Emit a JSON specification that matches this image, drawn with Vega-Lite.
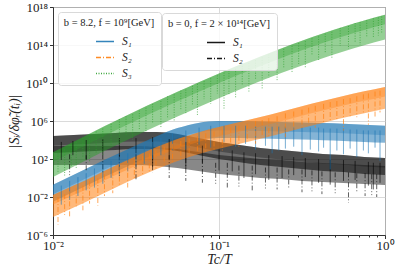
{
"$schema": "https://vega.github.io/schema/vega-lite/v6.json",
"width": 332, "height": 228,
"autosize": "none",
"padding": {"left": 53, "top": 7, "right": 14, "bottom": 38},
"background": "white",
"config": {
 "view": {"stroke": "#333", "strokeWidth": 1},
 "axis": {"domainColor": "#333", "tickColor": "#333", "labelColor": "#222", "titleColor": "#222", "gridColor": "#d0d0d0", "gridWidth": 0.8, "labelFont": "Liberation Serif", "titleFont": "Liberation Serif", "labelFontSize": 13, "titleFontSize": 14, "titleFontWeight": "normal", "titleFontStyle": "italic"},
 "legend": {"symbolType": "stroke", "symbolSize": 324, "symbolStrokeWidth": 1.3, "symbolOpacity": 0.9, "labelOffset": 7, "rowPadding": 0, "titleAnchor": "middle", "titleFont": "Liberation Serif", "titleFontSize": 10.5, "titleFontWeight": "normal", "titlePadding": 3, "labelFont": "Liberation Serif", "labelFontSize": 11.5, "labelFontStyle": "italic", "labelColor": "#222", "titleColor": "#222", "strokeColor": "#d9d9d9", "fillColor": "rgba(255,255,255,0.8)", "cornerRadius": 3, "padding": 6}
},
"datasets": {
 "gb": [
  {"x":0.01,"y":5.01e2,"y2":1.26,"m":50.1},
  {"x":0.01334,"y":6.61e3,"y2":1.66e1,"m":661},
  {"x":0.01778,"y":8.32e4,"y2":2.09e2,"m":8320},
  {"x":0.02371,"y":1e6,"y2":2.51e3,"m":1e5},
  {"x":0.03162,"y":1.12e7,"y2":2.82e4,"m":1.12e6},
  {"x":0.04217,"y":1.17e8,"y2":2.95e5,"m":1.17e7},
  {"x":0.05623,"y":1.17e9,"y2":2.95e6,"m":1.17e8},
  {"x":0.07499,"y":1.12e10,"y2":2.82e7,"m":1.12e9},
  {"x":0.1,"y":1e11,"y2":2.51e8,"m":1e10},
  {"x":0.1334,"y":8.32e11,"y2":2.09e9,"m":8.32e10},
  {"x":0.1778,"y":6.31e12,"y2":1.58e10,"m":6.31e11},
  {"x":0.2371,"y":4.37e13,"y2":1.1e11,"m":4.37e12},
  {"x":0.3162,"y":2.75e14,"y2":6.92e11,"m":2.75e13},
  {"x":0.4217,"y":1.58e15,"y2":3.98e12,"m":1.58e14},
  {"x":0.5623,"y":8.32e15,"y2":2.09e13,"m":8.32e14},
  {"x":0.7499,"y":3.8e16,"y2":9.55e13,"m":3.8e15},
  {"x":1,"y":1.51e17,"y2":3.8e14,"m":1.51e16}
 ],
 "bb": [
  {"x":0.01,"y":0.2,"y2":3.16e-3,"m":0.02},
  {"x":0.01334,"y":2.24,"y2":3.55e-2,"m":0.224},
  {"x":0.01778,"y":25.1,"y2":0.398,"m":2.51},
  {"x":0.02371,"y":263,"y2":4.17,"m":26.3},
  {"x":0.03162,"y":2630,"y2":41.7,"m":263},
  {"x":0.04217,"y":2.51e4,"y2":398,"m":2510},
  {"x":0.05623,"y":1.78e5,"y2":2820,"m":1.78e4},
  {"x":0.07499,"y":6.31e5,"y2":1e4,"m":6.31e4},
  {"x":0.1,"y":1e6,"y2":1.58e4,"m":1e5},
  {"x":0.1334,"y":1e6,"y2":1.58e4,"m":1e5},
  {"x":0.1778,"y":8.91e5,"y2":1.41e4,"m":8.91e4},
  {"x":0.2371,"y":7.94e5,"y2":1.26e4,"m":7.94e4},
  {"x":0.3162,"y":7.08e5,"y2":1.12e4,"m":7.08e4},
  {"x":0.4217,"y":6.03e5,"y2":9550,"m":6.03e4},
  {"x":0.5623,"y":5.01e5,"y2":7940,"m":5.01e4},
  {"x":0.7499,"y":3.98e5,"y2":6310,"m":3.98e4},
  {"x":1,"y":3.16e5,"y2":5010,"m":3.16e4}
 ],
 "ob": [
  {"x":0.01,"y":1.58e-2,"y2":7.94e-5,"m":1.58e-3},
  {"x":0.01334,"y":0.158,"y2":7.94e-4,"m":0.0158},
  {"x":0.01778,"y":1.66,"y2":8.32e-3,"m":0.166},
  {"x":0.02371,"y":19.1,"y2":9.55e-2,"m":1.91},
  {"x":0.03162,"y":200,"y2":1,"m":20},
  {"x":0.04217,"y":1780,"y2":8.91,"m":178},
  {"x":0.05623,"y":1.26e4,"y2":63.1,"m":1260},
  {"x":0.07499,"y":6.31e4,"y2":316,"m":6310},
  {"x":0.1,"y":2.34e5,"y2":1170,"m":2.34e4},
  {"x":0.1334,"y":7.94e5,"y2":3980,"m":7.94e4},
  {"x":0.1778,"y":2.63e6,"y2":1.32e4,"m":2.63e5},
  {"x":0.2371,"y":9.55e6,"y2":4.79e4,"m":9.55e5},
  {"x":0.3162,"y":3.55e7,"y2":1.78e5,"m":3.55e6},
  {"x":0.4217,"y":1.26e8,"y2":6.31e5,"m":1.26e7},
  {"x":0.5623,"y":4.27e8,"y2":2.14e6,"m":4.27e7},
  {"x":0.7499,"y":1.32e9,"y2":6.61e6,"m":1.32e8},
  {"x":1,"y":3.8e9,"y2":1.91e7,"m":3.8e8}
 ],
 "k1b": [
  {"x":0.01,"y":2.63e4,"y2":417,"m":2630},
  {"x":0.01334,"y":3.39e4,"y2":537,"m":3390},
  {"x":0.01778,"y":4.27e4,"y2":676,"m":4270},
  {"x":0.02371,"y":5.5e4,"y2":871,"m":5500},
  {"x":0.03162,"y":6.92e4,"y2":1100,"m":6920},
  {"x":0.04217,"y":6.92e4,"y2":1100,"m":6920},
  {"x":0.05623,"y":4.27e4,"y2":676,"m":4270},
  {"x":0.07499,"y":1.62e4,"y2":257,"m":1620},
  {"x":0.1,"y":6170,"y2":97.7,"m":617},
  {"x":0.1334,"y":2950,"y2":46.8,"m":295},
  {"x":0.1778,"y":1450,"y2":22.9,"m":145},
  {"x":0.2371,"y":891,"y2":14.1,"m":89.1},
  {"x":0.3162,"y":550,"y2":8.71,"m":55},
  {"x":0.4217,"y":339,"y2":5.37,"m":33.9},
  {"x":0.5623,"y":263,"y2":4.17,"m":26.3},
  {"x":0.7499,"y":162,"y2":2.57,"m":16.2},
  {"x":1,"y":129,"y2":2.04,"m":12.9}
 ],
 "k2b": [
  {"x":0.01,"y":2340,"y2":23.4,"m":234},
  {"x":0.01334,"y":2340,"y2":23.4,"m":234},
  {"x":0.01778,"y":2340,"y2":23.4,"m":234},
  {"x":0.02371,"y":2340,"y2":23.4,"m":234},
  {"x":0.03162,"y":2340,"y2":23.4,"m":234},
  {"x":0.04217,"y":1820,"y2":18.2,"m":182},
  {"x":0.05623,"y":1120,"y2":11.2,"m":112},
  {"x":0.07499,"y":550,"y2":5.5,"m":55},
  {"x":0.1,"y":263,"y2":2.63,"m":26.3},
  {"x":0.1334,"y":162,"y2":1.62,"m":16.2},
  {"x":0.1778,"y":100,"y2":1,"m":10},
  {"x":0.2371,"y":77.6,"y2":0.776,"m":7.76},
  {"x":0.3162,"y":47.9,"y2":0.479,"m":4.79},
  {"x":0.4217,"y":38,"y2":0.38,"m":3.8},
  {"x":0.5623,"y":29.5,"y2":0.295,"m":2.95},
  {"x":0.7499,"y":23.4,"y2":0.234,"m":2.34},
  {"x":1,"y":18.2,"y2":0.182,"m":1.82}
 ],
 "cs": [
  {"s":"S₃","x":0.01175,"y":1e3,"y2":1.58},
  {"s":"S₃","x":0.0138,"y":6310,"y2":10},
  {"s":"S₃","x":0.0166,"y":3.16e4,"y2":50.1},
  {"s":"S₃","x":0.01995,"y":1.58e5,"y2":251},
  {"s":"S₃","x":0.02512,"y":1.58e6,"y2":2510},
  {"s":"S₃","x":0.0302,"y":5.01e6,"y2":1e4},
  {"s":"S₃","x":0.03631,"y":2.51e7,"y2":6.31e4},
  {"s":"S₃","x":0.04467,"y":1.26e8,"y2":2e5},
  {"s":"S₃","x":0.0537,"y":6.31e8,"y2":1e6},
  {"s":"S₃","x":0.0631,"y":2e9,"y2":6.31e6},
  {"s":"S₃","x":0.07413,"y":7.94e9,"y2":3.98e6},
  {"s":"S₃","x":0.08913,"y":3.16e10,"y2":6.31e7},
  {"s":"S₃","x":0.1072,"y":1.26e11,"y2":1.58e7},
  {"s":"S₃","x":0.1259,"y":3.16e11,"y2":3.16e8},
  {"s":"S₃","x":0.1514,"y":1.26e12,"y2":1e9},
  {"s":"S₃","x":0.182,"y":5.01e12,"y2":2.51e9},
  {"s":"S₃","x":0.2239,"y":2e13,"y2":2e10},
  {"s":"S₃","x":0.2754,"y":7.94e13,"y2":1.26e11},
  {"s":"S₃","x":0.3311,"y":2.51e14,"y2":3.98e11},
  {"s":"S₃","x":0.3981,"y":7.94e14,"y2":2e12},
  {"s":"S₃","x":0.4786,"y":2.51e15,"y2":3.98e12},
  {"s":"S₃","x":0.6026,"y":1e16,"y2":3.98e13},
  {"s":"S₃","x":0.7079,"y":2.51e16,"y2":1e14},
  {"s":"S₃","x":0.8511,"y":6.31e16,"y2":5.01e14},
  {"s":"S₃","x":0.955,"y":1e17,"y2":1.58e15},
  {"s":"S₃","x":0.01072,"y":398,"y2":3.16},
  {"s":"S₃","x":0.01288,"y":3160,"y2":15.8},
  {"s":"S₃","x":0.01514,"y":1.58e4,"y2":158},
  {"s":"S₃","x":0.0182,"y":7.94e4,"y2":398},
  {"s":"S₃","x":0.02239,"y":5.01e5,"y2":2510},
  {"s":"S₃","x":0.02754,"y":3.16e6,"y2":2.51e4},
  {"s":"S₃","x":0.03311,"y":1.26e7,"y2":1.26e5},
  {"s":"S₃","x":0.03981,"y":6.31e7,"y2":5.01e5},
  {"s":"S₃","x":0.049,"y":3.98e8,"y2":2e6},
  {"s":"S₃","x":0.05888,"y":1.58e9,"y2":1.58e7},
  {"s":"S₃","x":0.06918,"y":5.01e9,"y2":3.98e7},
  {"s":"S₃","x":0.08128,"y":1.58e10,"y2":2e8},
  {"s":"S₃","x":0.09772,"y":6.31e10,"y2":7.94e8},
  {"s":"S₃","x":0.1148,"y":2e11,"y2":6.31e8},
  {"s":"S₃","x":0.138,"y":6.31e11,"y2":5.01e9},
  {"s":"S₃","x":0.166,"y":2.51e12,"y2":2e10},
  {"s":"S₃","x":0.1995,"y":1e13,"y2":3.98e10},
  {"s":"S₃","x":0.2455,"y":3.98e13,"y2":3.98e11},
  {"s":"S₃","x":0.302,"y":1.58e14,"y2":1e12},
  {"s":"S₃","x":0.3631,"y":5.01e14,"y2":7.94e12},
  {"s":"S₃","x":0.4365,"y":1.58e15,"y2":1.26e13},
  {"s":"S₃","x":0.537,"y":6.31e15,"y2":7.94e13},
  {"s":"S₃","x":0.6607,"y":2e16,"y2":1.58e14},
  {"s":"S₃","x":0.7762,"y":3.98e16,"y2":7.94e14},
  {"s":"S₃","x":0.912,"y":7.94e16,"y2":1e15},
  {"s":"S₁","x":0.01122,"y":0.158,"y2":1.58e-3},
  {"s":"S₁","x":0.01413,"y":1.26,"y2":1.26e-2},
  {"s":"S₁","x":0.01778,"y":10,"y2":0.1},
  {"s":"S₁","x":0.02239,"y":63.1,"y2":1},
  {"s":"S₁","x":0.02818,"y":398,"y2":5.01},
  {"s":"S₁","x":0.03548,"y":3160,"y2":31.6},
  {"s":"S₁","x":0.04467,"y":1.58e4,"y2":251},
  {"s":"S₁","x":0.0631,"y":1e5,"y2":1000},
  {"s":"S₁","x":0.08913,"y":3.16e5,"y2":1580},
  {"s":"S₁","x":0.1259,"y":3.16e5,"y2":2000},
  {"s":"S₁","x":0.166,"y":2.51e5,"y2":1000},
  {"s":"S₁","x":0.2089,"y":2.51e5,"y2":398},
  {"s":"S₁","x":0.2512,"y":2.51e5,"y2":1260},
  {"s":"S₁","x":0.3162,"y":2e5,"y2":251},
  {"s":"S₁","x":0.3981,"y":2e5,"y2":631},
  {"s":"S₁","x":0.4677,"y":1.58e5,"y2":7.94},
  {"s":"S₁","x":0.5623,"y":1.58e5,"y2":316},
  {"s":"S₁","x":0.6761,"y":1.26e5,"y2":158},
  {"s":"S₁","x":0.7943,"y":1e5,"y2":398},
  {"s":"S₁","x":0.9333,"y":1e5,"y2":63.1},
  {"s":"S₁","x":0.01259,"y":0.501,"y2":5.01e-3},
  {"s":"S₁","x":0.01585,"y":3.16,"y2":5.01e-2},
  {"s":"S₁","x":0.01995,"y":25.1,"y2":0.251},
  {"s":"S₁","x":0.02512,"y":158,"y2":2},
  {"s":"S₁","x":0.03162,"y":1000,"y2":15.8},
  {"s":"S₁","x":0.03981,"y":6310,"y2":100},
  {"s":"S₁","x":0.05248,"y":5.01e4,"y2":794},
  {"s":"S₁","x":0.07586,"y":2e5,"y2":3160},
  {"s":"S₁","x":0.1072,"y":3.16e5,"y2":6310},
  {"s":"S₁","x":0.1445,"y":3.16e5,"y2":3980},
  {"s":"S₁","x":0.1905,"y":2.51e5,"y2":2510},
  {"s":"S₁","x":0.2291,"y":2.51e5,"y2":794},
  {"s":"S₁","x":0.2818,"y":2e5,"y2":2000},
  {"s":"S₁","x":0.3548,"y":2e5,"y2":1000},
  {"s":"S₁","x":0.4266,"y":1.58e5,"y2":1580},
  {"s":"S₁","x":0.5129,"y":1.58e5,"y2":794},
  {"s":"S₁","x":0.6166,"y":1.26e5,"y2":1260},
  {"s":"S₁","x":0.7413,"y":1e5,"y2":794},
  {"s":"S₁","x":0.871,"y":1e5,"y2":1580},
  {"s":"S₂","x":0.01072,"y":0.01,"y2":1.26e-5},
  {"s":"S₂","x":0.01259,"y":0.0398,"y2":6.31e-5},
  {"s":"S₂","x":0.01514,"y":0.158,"y2":3.98e-4},
  {"s":"S₂","x":0.01862,"y":1,"y2":1.26e-3},
  {"s":"S₂","x":0.02291,"y":6.31,"y2":2.51e-2},
  {"s":"S₂","x":0.02818,"y":39.8,"y2":0.1},
  {"s":"S₂","x":0.03467,"y":200,"y2":2},
  {"s":"S₂","x":0.04169,"y":794,"y2":6.31},
  {"s":"S₂","x":0.05248,"y":3980,"y2":50.1},
  {"s":"S₂","x":0.06607,"y":1.58e4,"y2":200},
  {"s":"S₂","x":0.08318,"y":5.01e4,"y2":398},
  {"s":"S₂","x":0.1047,"y":1.26e5,"y2":794},
  {"s":"S₂","x":0.1318,"y":3.16e5,"y2":2000},
  {"s":"S₂","x":0.166,"y":1e6,"y2":3980},
  {"s":"S₂","x":0.1995,"y":2e6,"y2":2.51e4},
  {"s":"S₂","x":0.2512,"y":6.31e6,"y2":2e4},
  {"s":"S₂","x":0.3162,"y":1.58e7,"y2":1.58e5},
  {"s":"S₂","x":0.3802,"y":3.98e7,"y2":2e5},
  {"s":"S₂","x":0.4677,"y":1e8,"y2":7.94e5},
  {"s":"S₂","x":0.5623,"y":2e8,"y2":1e5},
  {"s":"S₂","x":0.6761,"y":3.98e8,"y2":2.51e6},
  {"s":"S₂","x":0.7943,"y":7.94e8,"y2":3.98e5},
  {"s":"S₂","x":0.9333,"y":1.58e9,"y2":7.94e6},
  {"s":"S₂","x":0.01175,"y":0.02,"y2":1.26e-4},
  {"s":"S₂","x":0.0138,"y":0.0794,"y2":7.94e-4},
  {"s":"S₂","x":0.0166,"y":0.501,"y2":2e-3},
  {"s":"S₂","x":0.02042,"y":2.51,"y2":1.26e-2},
  {"s":"S₂","x":0.02512,"y":15.8,"y2":0.158},
  {"s":"S₂","x":0.0309,"y":79.4,"y2":1},
  {"s":"S₂","x":0.03802,"y":398,"y2":5.01},
  {"s":"S₂","x":0.04677,"y":2000,"y2":20},
  {"s":"S₂","x":0.05888,"y":7940,"y2":100},
  {"s":"S₂","x":0.07413,"y":2.51e4,"y2":631},
  {"s":"S₂","x":0.09333,"y":7.94e4,"y2":1000},
  {"s":"S₂","x":0.1175,"y":2e5,"y2":3980},
  {"s":"S₂","x":0.1479,"y":5.01e5,"y2":7940},
  {"s":"S₂","x":0.182,"y":1.26e6,"y2":2e4},
  {"s":"S₂","x":0.2239,"y":3.16e6,"y2":6.31e4},
  {"s":"S₂","x":0.2818,"y":1e7,"y2":1e5},
  {"s":"S₂","x":0.3467,"y":2.51e7,"y2":3.98e5},
  {"s":"S₂","x":0.4266,"y":6.31e7,"y2":7.94e5},
  {"s":"S₂","x":0.5129,"y":1.26e8,"y2":1.26e6},
  {"s":"S₂","x":0.6166,"y":2.51e8,"y2":3.16e6},
  {"s":"S₂","x":0.7413,"y":6.31e8,"y2":6.31e6},
  {"s":"S₂","x":0.871,"y":1.26e9,"y2":2.51e6}
 ],
 "ks": [
  {"s":"S₁","x":0.01122,"y":6310,"y2":79.4},
  {"s":"S₁","x":0.01585,"y":1e4,"y2":100},
  {"s":"S₁","x":0.02512,"y":1.58e4,"y2":200},
  {"s":"S₁","x":0.03981,"y":2e4,"y2":15.8},
  {"s":"S₁","x":0.0631,"y":6310,"y2":10},
  {"s":"S₁","x":0.1,"y":1000,"y2":6.31},
  {"s":"S₁","x":0.1413,"y":501,"y2":1},
  {"s":"S₁","x":0.1995,"y":251,"y2":0.631},
  {"s":"S₁","x":0.2818,"y":158,"y2":2},
  {"s":"S₁","x":0.3981,"y":100,"y2":0.316},
  {"s":"S₁","x":0.5623,"y":79.4,"y2":0.501},
  {"s":"S₁","x":0.7943,"y":50.1,"y2":0.158},
  {"s":"S₁","x":0.9333,"y":39.8,"y2":0.316},
  {"s":"S₁","x":0.01318,"y":7940,"y2":251},
  {"s":"S₁","x":0.01995,"y":1.26e4,"y2":316},
  {"s":"S₁","x":0.03162,"y":1.58e4,"y2":398},
  {"s":"S₁","x":0.05012,"y":1.26e4,"y2":100},
  {"s":"S₁","x":0.07943,"y":2510,"y2":39.8},
  {"s":"S₁","x":0.1202,"y":794,"y2":5.01},
  {"s":"S₁","x":0.166,"y":398,"y2":2.51},
  {"s":"S₁","x":0.2399,"y":200,"y2":1},
  {"s":"S₁","x":0.3311,"y":126,"y2":1.26},
  {"s":"S₁","x":0.4677,"y":79.4,"y2":0.2},
  {"s":"S₁","x":0.6607,"y":63.1,"y2":0.631},
  {"s":"S₁","x":0.8511,"y":39.8,"y2":0.0631},
  {"s":"S₂","x":0.01259,"y":316,"y2":2},
  {"s":"S₂","x":0.01995,"y":316,"y2":3.16},
  {"s":"S₂","x":0.03162,"y":316,"y2":0.631},
  {"s":"S₂","x":0.05012,"y":251,"y2":1},
  {"s":"S₂","x":0.07943,"y":100,"y2":0.316},
  {"s":"S₂","x":0.1122,"y":39.8,"y2":0.1},
  {"s":"S₂","x":0.1585,"y":20,"y2":0.0501},
  {"s":"S₂","x":0.2239,"y":12.6,"y2":0.0631},
  {"s":"S₂","x":0.3162,"y":7.94,"y2":0.0316},
  {"s":"S₂","x":0.4169,"y":5.01,"y2":0.02},
  {"s":"S₂","x":0.6026,"y":3.98,"y2":0.00251},
  {"s":"S₂","x":0.7586,"y":3.16,"y2":0.0126},
  {"s":"S₂","x":0.8913,"y":2.51,"y2":0.01},
  {"s":"S₂","x":0.01585,"y":251,"y2":6.31},
  {"s":"S₂","x":0.02512,"y":251,"y2":1.58},
  {"s":"S₂","x":0.03981,"y":251,"y2":3.98},
  {"s":"S₂","x":0.0631,"y":126,"y2":0.501},
  {"s":"S₂","x":0.0955,"y":39.8,"y2":0.251},
  {"s":"S₂","x":0.1318,"y":20,"y2":0.126},
  {"s":"S₂","x":0.1905,"y":12.6,"y2":0.0794},
  {"s":"S₂","x":0.263,"y":7.94,"y2":0.1},
  {"s":"S₂","x":0.3631,"y":6.31,"y2":0.0398},
  {"s":"S₂","x":0.5012,"y":3.98,"y2":0.0251},
  {"s":"S₂","x":0.6761,"y":3.16,"y2":0.0316},
  {"s":"S₂","x":0.8318,"y":2.51,"y2":0.0158}
 ]
},
"encoding": {
 "x": {"field": "x", "type": "quantitative",
  "scale": {"type": "log", "domain": [0.01, 1], "nice": false},
  "axis": {"title": "Tc/T", "values": [0.01,0.02,0.03,0.04,0.05,0.06,0.07,0.08,0.09,0.1,0.2,0.3,0.4,0.5,0.6,0.7,0.8,0.9,1],
   "labelExpr": "datum.value < 0.015 ? '10⁻²' : (datum.value > 0.095 && datum.value < 0.105) ? '10⁻¹' : datum.value > 0.95 ? '10⁰' : ''",
   "labelOverlap": false, "labelFlush": false, "labelBound": false, "labelPadding": 1, "titlePadding": 0,
   "tickSize": {"condition": {"test": "abs(log(datum.value)/LN10 - round(log(datum.value)/LN10)) < 0.001", "value": 3.5}, "value": 2},
   "gridOpacity": {"condition": {"test": "abs(log(datum.value)/LN10 - round(log(datum.value)/LN10)) < 0.001", "value": 1}, "value": 0}}},
 "y": {"field": "y", "type": "quantitative",
  "scale": {"type": "log", "domain": [1e-6, 1e18], "nice": false},
  "axis": {"title": "|Sᵢ/δφ̃ᵣ(tᵢ)|", "values": [1e-6,1e-2,1e2,1e6,1e10,1e14,1e18],
   "labelExpr": "datum.value < 1e-5 ? '10⁻⁶' : datum.value < 1e-1 ? '10⁻²' : datum.value < 1e3 ? '10²' : datum.value < 1e7 ? '10⁶' : datum.value < 1e11 ? '10¹⁰' : datum.value < 1e15 ? '10¹⁴' : '10¹⁸'",
   "labelOverlap": false, "labelFlush": false, "tickSize": 3.5, "labelPadding": 2, "titlePadding": 4}},
 "y2": {"field": "y2"}
},
"layer": [
 {"data": {"name": "k2b"}, "mark": {"type": "area", "color": "#111", "opacity": 0.5, "interpolate": "monotone", "clip": true}},
 {"data": {"name": "k1b"}, "mark": {"type": "area", "color": "#111", "opacity": 0.62, "interpolate": "monotone", "clip": true}},
 {"data": {"name": "k1b"}, "mark": {"type": "area", "color": "#111", "opacity": 0.35, "interpolate": "monotone", "clip": true}, "encoding": {"y2": {"field": "m"}}},
 {"data": {"name": "bb"}, "mark": {"type": "area", "color": "#1f77b4", "opacity": 0.55, "interpolate": "monotone", "clip": true}},
 {"data": {"name": "bb"}, "mark": {"type": "area", "color": "#1f77b4", "opacity": 0.35, "interpolate": "monotone", "clip": true}, "encoding": {"y2": {"field": "m"}}},
 {"data": {"name": "ob"}, "mark": {"type": "area", "color": "#ff7f0e", "opacity": 0.55, "interpolate": "monotone", "clip": true}},
 {"data": {"name": "ob"}, "mark": {"type": "area", "color": "#ff7f0e", "opacity": 0.35, "interpolate": "monotone", "clip": true}, "encoding": {"y2": {"field": "m"}}},
 {"data": {"name": "gb"}, "mark": {"type": "area", "color": "#2ca02c", "opacity": 0.5, "interpolate": "monotone", "clip": true}},
 {"data": {"name": "gb"}, "mark": {"type": "area", "color": "#2ca02c", "opacity": 0.35, "interpolate": "monotone", "clip": true}, "encoding": {"y2": {"field": "m"}}},
 {"data": {"name": "ks"}, "mark": {"type": "rule", "opacity": 0.7, "strokeWidth": 0.9, "clip": true},
  "encoding": {
   "color": {"field": "s", "type": "nominal", "title": "b = 0, f = 2 × 10¹⁴[GeV]",
    "scale": {"domain": ["S₁","S₂"], "range": ["#000000","#000000"]},
    "legend": {"orient": "none", "legendX": 109, "legendY": 6, "symbolOffset": 11}},
   "strokeDash": {"field": "s", "type": "nominal", "title": "b = 0, f = 2 × 10¹⁴[GeV]",
    "scale": {"domain": ["S₁","S₂"], "range": [[1,0],[5,2,1,2]]},
    "legend": {"orient": "none", "legendX": 109, "legendY": 6, "symbolOffset": 11}}
  }},
 {"data": {"name": "cs"}, "mark": {"type": "rule", "opacity": 0.75, "strokeWidth": 0.9, "clip": true},
  "encoding": {
   "color": {"field": "s", "type": "nominal", "title": "b = 8.2, f = 10⁹[GeV]",
    "scale": {"domain": ["S₁","S₂","S₃"], "range": ["#1f77b4","#ff7f0e","#2ca02c"]},
    "legend": {"orient": "none", "legendX": 5, "legendY": 5, "symbolOffset": 9}},
   "strokeDash": {"field": "s", "type": "nominal", "title": "b = 8.2, f = 10⁹[GeV]",
    "scale": {"domain": ["S₁","S₂","S₃"], "range": [[1,0],[5,2,1,2],[1,1.5]]},
    "legend": {"orient": "none", "legendX": 5, "legendY": 5, "symbolOffset": 9}}
  }}
],
"resolve": {"scale": {"color": "independent", "strokeDash": "independent"}}
}
